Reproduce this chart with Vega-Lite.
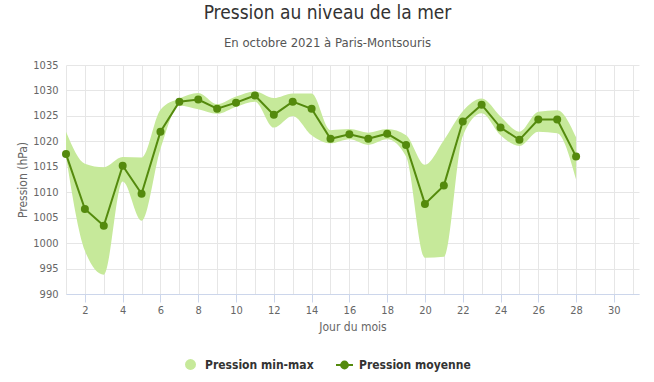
{
  "$schema": "https://vega.github.io/schema/vega-lite/v6.json",
  "width": 573,
  "height": 229,
  "autosize": {"type": "none"},
  "padding": {"left": 66, "top": 65, "right": 15, "bottom": 88},
  "background": "white",
  "config": {
    "view": {"stroke": null},
    "font": "DejaVu Sans Condensed",
    "axisY": {
      "format": "d",
      "grid": true,
      "gridColor": "#e6e6e6",
      "domain": false,
      "ticks": false,
      "labelPadding": 8,
      "labelColor": "#666666",
      "labelFontSize": 11,
      "titleColor": "#666666",
      "titleFontSize": 12,
      "titleFontWeight": "normal",
      "titlePadding": 3
    },
    "legend": {
      "orient": "none",
      "direction": "horizontal",
      "padding": 0,
      "labelFont": "DejaVu Sans Condensed",
      "labelFontSize": 12,
      "labelFontWeight": "bold",
      "labelColor": "#333333"
    }
  },
  "title": {
    "text": "Pression au niveau de la mer",
    "subtitle": "En octobre 2021 à Paris-Montsouris",
    "anchor": "middle",
    "frame": "group",
    "dx": -25,
    "font": "DejaVu Sans Condensed",
    "fontSize": 19,
    "fontWeight": "normal",
    "color": "#333333",
    "subtitleFont": "DejaVu Sans Condensed",
    "subtitleFontSize": 13,
    "subtitleColor": "#555555",
    "subtitlePadding": 14,
    "offset": 9
  },
  "data": {
    "values": [
      {"jour": 1, "min": 1017.0, "max": 1021.9, "moy": 1017.5},
      {"jour": 2, "min": 998.5, "max": 1015.6, "moy": 1006.7},
      {"jour": 3, "min": 993.8, "max": 1014.9, "moy": 1003.4},
      {"jour": 4, "min": 1012.1, "max": 1016.9, "moy": 1015.2},
      {"jour": 5, "min": 1004.4, "max": 1016.8, "moy": 1009.7},
      {"jour": 6, "min": 1018.5, "max": 1026.2, "moy": 1021.9},
      {"jour": 7, "min": 1027.0, "max": 1028.4, "moy": 1027.8},
      {"jour": 8, "min": 1026.3, "max": 1029.5, "moy": 1028.2},
      {"jour": 9, "min": 1025.4, "max": 1027.3, "moy": 1026.4},
      {"jour": 10, "min": 1026.8, "max": 1028.8, "moy": 1027.6},
      {"jour": 11, "min": 1027.8, "max": 1029.8, "moy": 1029.0},
      {"jour": 12, "min": 1022.7, "max": 1028.5, "moy": 1025.2},
      {"jour": 13, "min": 1025.0, "max": 1029.4, "moy": 1027.8},
      {"jour": 14, "min": 1021.2, "max": 1029.4, "moy": 1026.4},
      {"jour": 15, "min": 1019.6, "max": 1022.2, "moy": 1020.5},
      {"jour": 16, "min": 1020.4, "max": 1022.4, "moy": 1021.4},
      {"jour": 17, "min": 1019.3, "max": 1021.7, "moy": 1020.5},
      {"jour": 18, "min": 1020.4, "max": 1022.4, "moy": 1021.5},
      {"jour": 19, "min": 1017.0, "max": 1021.2, "moy": 1019.3},
      {"jour": 20, "min": 997.1, "max": 1015.4, "moy": 1007.7},
      {"jour": 21, "min": 997.3, "max": 1020.2, "moy": 1011.3},
      {"jour": 22, "min": 1021.0, "max": 1025.9, "moy": 1023.9},
      {"jour": 23, "min": 1025.5, "max": 1028.4, "moy": 1027.2},
      {"jour": 24, "min": 1021.2, "max": 1024.9, "moy": 1022.7},
      {"jour": 25, "min": 1019.1, "max": 1021.9, "moy": 1020.3},
      {"jour": 26, "min": 1021.9, "max": 1025.8, "moy": 1024.3},
      {"jour": 27, "min": 1021.6, "max": 1026.1, "moy": 1024.3},
      {"jour": 28, "min": 1012.5, "max": 1020.8, "moy": 1017.0}
    ]
  },
  "encoding": {
    "x": {
      "field": "jour",
      "type": "quantitative",
      "scale": {"domain": [1, 31.33], "nice": false, "zero": false},
      "axis": {
        "values": [1,2,3,4,5,6,7,8,9,10,11,12,13,14,15,16,17,18,19,20,21,22,23,24,25,26,27,28,29,30,31],
        "labelExpr": "datum.value % 2 === 0 ? datum.label : ''",
        "grid": true,
        "gridColor": "#e6e6e6",
        "domainColor": "#ccd6eb",
        "tickColor": {"condition": {"test": "datum.value % 2 === 0", "value": "#ccd6eb"}, "value": "rgba(0,0,0,0)"},
        "tickSize": 8,
        "labelColor": "#666666",
        "labelFontSize": 11,
        "labelPadding": 2,
        "title": "Jour du mois",
        "titleColor": "#666666",
        "titleFontSize": 12,
        "titleFontWeight": "normal",
        "titlePadding": 6
      }
    }
  },
  "layer": [
    {
      "mark": {"type": "area", "interpolate": "monotone", "opacity": 1},
      "encoding": {
        "y": {
          "field": "min",
          "type": "quantitative",
          "scale": {"domain": [990, 1035], "nice": false, "zero": false},
          "axis": {"values": [990, 995, 1000, 1005, 1010, 1015, 1020, 1025, 1030, 1035], "format": "d", "title": "Pression (hPa)"}
        },
        "y2": {"field": "max"},
        "fill": {
          "datum": "Pression min-max",
          "type": "nominal",
          "scale": {"range": ["#c6e99a"]},
          "legend": {
            "legendX": 118,
            "legendY": 293,
            "title": null,
            "symbolType": "circle",
            "symbolSize": 120,
            "symbolOpacity": 1,
            "labelOffset": 8
          }
        }
      }
    },
    {
      "mark": {"type": "line", "strokeWidth": 2},
      "encoding": {
        "y": {
          "field": "moy",
          "type": "quantitative",
          "scale": {"domain": [990, 1035], "nice": false, "zero": false},
          "axis": {"values": [990, 995, 1000, 1005, 1010, 1015, 1020, 1025, 1030, 1035], "format": "d", "title": "Pression (hPa)"}
        },
        "stroke": {
          "datum": "Pression moyenne",
          "type": "nominal",
          "scale": {"range": ["#548a0d"]},
          "legend": {
            "legendX": 269,
            "legendY": 290.5,
            "title": null,
            "symbolType": "M-1,0H1M-0.4,0A0.4,0.4 0 1,1 0.4,0A0.4,0.4 0 1,1 -0.4,0Z",
            "symbolSize": 289,
            "symbolFillColor": "#548a0d",
            "symbolStrokeWidth": 2,
            "labelOffset": 5
          }
        }
      }
    },
    {
      "mark": {"type": "point", "filled": true, "size": 64, "opacity": 1, "color": "#548a0d"},
      "encoding": {
        "y": {
          "field": "moy",
          "type": "quantitative",
          "scale": {"domain": [990, 1035], "nice": false, "zero": false},
          "axis": {"values": [990, 995, 1000, 1005, 1010, 1015, 1020, 1025, 1030, 1035], "format": "d", "title": "Pression (hPa)"}
        }
      }
    }
  ]
}
